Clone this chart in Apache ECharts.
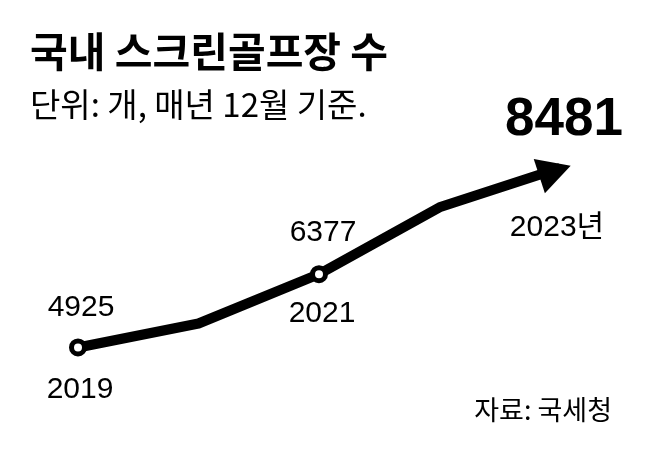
<!DOCTYPE html>
<html><head><meta charset="utf-8">
<script src="https://cdn.jsdelivr.net/npm/echarts@6/dist/echarts.min.js"></script>
<style>html,body{margin:0;padding:0;background:#fff}#c{width:658px;height:455px}</style>
</head><body><div id="c"></div>
<script>
// ---- data ----
const years = ['2019', '2020', '2021', '2022', '2023'];
const counts = [4925, 5400, 6377, 7700, 8481];
const valueLabels = ['4925', '', '6377', '', '8481'];
const yearLabels = ['2019', '', '2021', '', '2023년'];
const titleText = '국내 스크린골프장 수';
const subtitleText = '단위: 개, 매년 12월 기준.';
const sourceText = '자료: 국세청';

// ---- layout / style ----
const NUM_FONT = '"Liberation Sans Narrow", "Liberation Sans", "Noto Sans CJK KR", sans-serif';
const KR_FONT = '"Noto Sans CJK KR", sans-serif';
const valueOffsets = [[3, -40], null, [4, -41], null, [4, -48]];
const yearOffsets = [[2, 42], null, [3, 40], null, [-3, 60]];

const lineData = counts.map((v, i) => {
  if (i === 0 || i === 2) {
    return { value: v, symbol: 'circle', symbolSize: 13,
      itemStyle: { color: '#fff', borderColor: '#000', borderWidth: 5 } };
  }
  if (i === counts.length - 1) {
    return { value: v, symbol: 'triangle', symbolSize: [36, 33], symbolRotate: -72,
      symbolOffset: [-5, 3], itemStyle: { color: '#000', borderWidth: 0 } };
  }
  return { value: v, symbol: 'none' };
});

const valueData = counts.map((v, i) => valueLabels[i] ? {
  value: v,
  label: {
    formatter: valueLabels[i],
    offset: valueOffsets[i],
    fontSize: i === counts.length - 1 ? 53 : 30,
    fontWeight: i === counts.length - 1 ? 'bold' : 'normal',
    fontFamily: i === counts.length - 1 ? '"Liberation Sans", sans-serif' : NUM_FONT
  }
} : '-');

const yearData = counts.map((v, i) => yearLabels[i] ? {
  value: v,
  label: { formatter: yearLabels[i], offset: yearOffsets[i] }
} : '-');

const chart = echarts.init(document.getElementById('c'), null, { renderer: 'canvas' });
chart.setOption({
  animation: false,
  backgroundColor: '#fff',
  title: [
    { text: titleText, left: 25, top: 26,
      textStyle: { fontFamily: KR_FONT, fontSize: 41, fontWeight: 'bold', color: '#000' } },
    { text: subtitleText, left: 25, top: 83,
      textStyle: { fontFamily: KR_FONT, fontSize: 33, fontWeight: 'normal', color: '#000' } },
    { text: sourceText, right: 41, top: 391,
      textStyle: { fontFamily: KR_FONT, fontSize: 27, fontWeight: 'normal', color: '#000' } }
  ],
  grid: { left: 78, right: 98, top: 141.7, bottom: 60.8, containLabel: false },
  xAxis: {
    type: 'category', data: years, boundaryGap: false, show: false
  },
  yAxis: {
    type: 'value', min: 4000, max: 9000, show: false, splitLine: { show: false }
  },
  series: [
    {
      type: 'line', data: lineData, showSymbol: true, showAllSymbol: true,
      lineStyle: { color: '#000', width: 10, join: 'round', cap: 'butt' },
      z: 2, silent: true
    },
    {
      type: 'scatter', data: valueData, symbolSize: 1,
      itemStyle: { color: 'rgba(0,0,0,0)', opacity: 1 },
      label: { show: true, position: 'inside', color: '#000',
        fontFamily: NUM_FONT, fontSize: 30 },
      z: 3, silent: true
    },
    {
      type: 'scatter', data: yearData, symbolSize: 1,
      itemStyle: { color: 'rgba(0,0,0,0)', opacity: 1 },
      label: { show: true, position: 'inside', color: '#000',
        fontFamily: NUM_FONT, fontSize: 30 },
      z: 3, silent: true
    }
  ]
});
</script></body></html>
